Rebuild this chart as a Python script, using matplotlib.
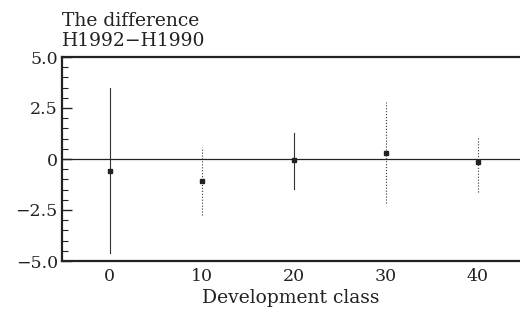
import matplotlib
matplotlib.use("Agg")
import matplotlib.pyplot as plt
from matplotlib.ticker import MultipleLocator

classes = [0, 10, 20, 30, 40]
means = [-0.59, -1.08, -0.05, 0.29, -0.15]
upper = [3.48, 0.59, 1.27, 2.80, 1.13]
lower = [-4.60, -2.75, -1.47, -2.16, -1.62]
styles = ['-', ':', '-', ':', ':']
yticks = [-5.0, -2.5, 0, 2.5, 5.0]
ylabels = ['\u22125.0', '\u22122.5', '0', '2.5', '5.0']

plt.rcParams['font.family'] = ['DejaVu Serif']
fig = plt.figure(figsize=(5.2, 3.2), dpi=100)
ax = fig.add_axes([62/520, 1-261/320, 1-62/520, (261-57)/320])

ax.axhline(0, color='#222222', lw=0.9)
for x, m, u, l, s in zip(classes, means, upper, lower, styles):
    ax.plot([x, x], [l, u], color='#333333', lw=0.8, ls=s)
    ax.plot([x], [m], marker='s', ms=2.3, color='#222222', ls='none')

ax.set_xlim(-5.2, 44.6)
ax.set_ylim(-5, 5)
ax.set_yticks(yticks)
ax.set_yticklabels(ylabels)
ax.set_xticks(classes)
ax.yaxis.set_minor_locator(MultipleLocator(0.5))
ax.tick_params(axis='y', which='major', direction='in', length=7, width=1, labelsize=12.5, pad=3, colors='#222222')
ax.tick_params(axis='y', which='minor', direction='in', length=4, width=0.8, colors='#222222')
ax.tick_params(axis='x', which='major', length=0, labelsize=12.5, pad=5, colors='#222222')
for sp in ['left', 'bottom', 'top']:
    ax.spines[sp].set_linewidth(1.6)
    ax.spines[sp].set_color('#222222')
ax.spines['right'].set_visible(False)
ax.set_xlabel('Development class', fontsize=13.5, color='#222222', labelpad=3)

fig.text(62/520, 1-26/320, 'The difference', fontsize=13.5, color='#222222', ha='left', va='baseline')
fig.text(62/520, 1-46/320, 'H1992\u2212H1990', fontsize=13.5, color='#222222', ha='left', va='baseline')

fig.savefig('out.png', dpi=100)
